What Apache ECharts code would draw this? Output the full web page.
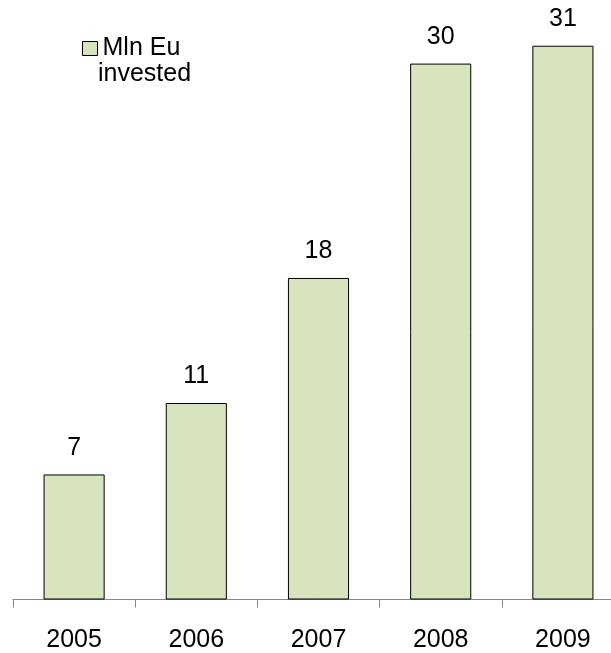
<!DOCTYPE html>
<html lang="en">
<head>
    <meta charset="UTF-8">
    <title>Mln Eu invested</title>
    <style>
        *{
            margin: 0;
            padding: 0;
        }
        html, body{
            height: 100%;
            width: 100%;
            background: #fff;
        }
        #chart{
            width: 611px;
            height: 653px;
        }
    </style>
</head>
<body>
<div id="chart"></div>
<script src="https://cdn.jsdelivr.net/npm/echarts@6/dist/echarts.min.js"></script>
<script>
    var years = ['2005', '2006', '2007', '2008', '2009'];
    var invested = [7, 11, 18, 30, 31];

    var chart = echarts.init(document.getElementById('chart'));
    var font = 'Liberation Sans, Arial, sans-serif';

    var option = {
        animation: false,
        grid: {
            left: 13,
            top: 10,
            width: 611,
            bottom: 53.5,
            containLabel: false,
            outerBoundsMode: 'none'
        },
        legend: {
            left: 77,
            top: 31,
            itemWidth: 15,
            itemHeight: 14,
            icon: 'rect',
            data: [{
                name: 'Mln Eu',
                itemStyle: { color: '#d7e4bd', borderColor: '#000', borderWidth: 1 }
            }],
            textStyle: { fontFamily: font, fontSize: 25, color: '#000' }
        },
        graphic: [{
            type: 'text',
            left: 98,
            top: 62,
            style: { text: 'invested', font: '25px ' + font, fill: '#000' }
        }],
        xAxis: {
            type: 'category',
            data: years,
            axisLine: { lineStyle: { color: '#868686', width: 1 } },
            axisTick: { show: true, length: 8, lineStyle: { color: '#868686' } },
            axisLabel: { margin: 28, fontFamily: font, fontSize: 25, color: '#000' }
        },
        yAxis: {
            type: 'value',
            min: 0,
            max: 33,
            show: false,
            splitLine: { show: false }
        },
        series: [{
            name: 'Mln Eu',
            type: 'bar',
            data: invested,
            barWidth: '50%',
            itemStyle: { color: '#d7e4bd', borderColor: '#000', borderWidth: 1 },
            label: {
                show: true,
                position: 'top',
                distance: 14,
                fontFamily: font,
                fontSize: 25,
                color: '#000'
            }
        }]
    };
    chart.setOption(option);
</script>
</body>
</html>
